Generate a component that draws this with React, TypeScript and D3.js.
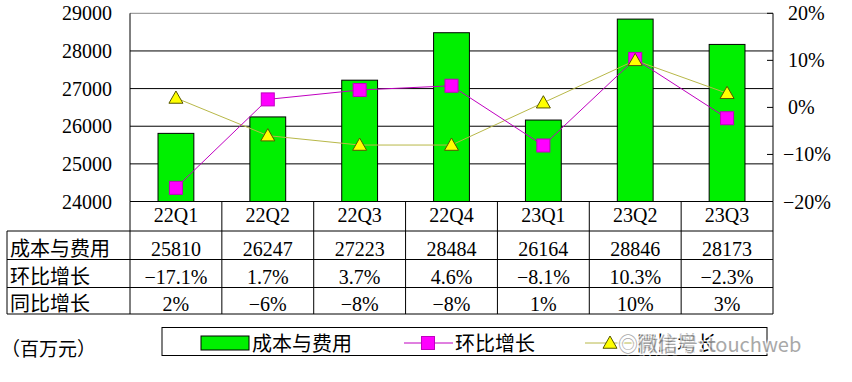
import React from "react";
import * as d3 from "d3";

const categories = ["22Q1", "22Q2", "22Q3", "22Q4", "23Q1", "23Q2", "23Q3"];
const costValues = [25810, 26247, 27223, 28484, 26164, 28846, 28173];
const qoqValues = [-17.1, 1.7, 3.7, 4.6, -8.1, 10.3, -2.3];
const yoyValues = [2, -6, -8, -8, 1, 10, 3];
const qoqLabels = ["−17.1%", "1.7%", "3.7%", "4.6%", "−8.1%", "10.3%", "−2.3%"];
const yoyLabels = ["2%", "−6%", "−8%", "−8%", "1%", "10%", "3%"];
const leftTicks = [24000, 25000, 26000, 27000, 28000, 29000];
const rightTicks = [-20, -10, 0, 10, 20];
const rowNames = ["成本与费用", "环比增长", "同比增长"];

const FONT = "'Liberation Serif', 'Noto Sans CJK SC', serif";

export default function App() {
  const W = 852, H = 382;
  const left = 130, right = 773, top = 13.3, bottom = 201.5;
  const x = d3.scaleBand<string>().domain(categories).range([left, right]).paddingInner(0).paddingOuter(0);
  const yL = d3.scaleLinear().domain([24000, 29000]).range([bottom, top]);
  const yR = d3.scaleLinear().domain([-20, 20]).range([bottom, top]);
  const barW = x.bandwidth() * 0.39;
  const cx = (c: string) => (x(c) as number) + x.bandwidth() / 2;

  const line = d3.line<number>().x((_, i) => cx(categories[i])).y((d) => yR(d));

  const headerBottom = 231;
  const rowBounds = [231, 259.5, 287.5, 314];
  const rowBaselines = [256, 284, 311];
  const labelLeft = 7;

  const tri = (px: number, py: number, s = 7) =>
    `M${px},${py - s} L${px + s},${py + s * 0.75} L${px - s},${py + s * 0.75} Z`;

  return (
    <svg width={W} height={H} style={{ position: "absolute", left: 0, top: 0, background: "#fff" }} fontFamily={FONT}>
      <rect x={0} y={0} width={W} height={H} fill="#fff" />
      {leftTicks.map((t) => (
        <line key={t} x1={left} x2={right} y1={yL(t)} y2={yL(t)} stroke={t === 29000 ? "#888" : "#000"} strokeWidth={1} />
      ))}
      {costValues.map((v, i) => (
        <rect key={i} x={cx(categories[i]) - barW / 2} y={yL(v)} width={barW} height={bottom - yL(v)} fill="#00F000" stroke="#000" strokeWidth={1} />
      ))}
      <line x1={left} x2={left} y1={top} y2={bottom} stroke="#000" />
      <line x1={right} x2={right} y1={top} y2={bottom} stroke="#000" />
      {rightTicks.map((t) => (
        <line key={t} x1={right - 6} x2={right} y1={yR(t)} y2={yR(t)} stroke="#000" />
      ))}
      {leftTicks.map((t) => (
        <text key={t} x={112} y={yL(t)} dy="0.35em" textAnchor="end" fontSize={20} fill="#000">{t}</text>
      ))}
      {rightTicks.map((t) => (
        <text key={t} x={t < 0 ? 783 : 788} y={yR(t)} dy="0.35em" textAnchor="start" fontSize={20} fill="#000">{t < 0 ? "−" + Math.abs(t) + "%" : t + "%"}</text>
      ))}
      <path d={line(yoyValues) as string} fill="none" stroke="#B8B848" strokeWidth={1} />
      <path d={line(qoqValues) as string} fill="none" stroke="#C000C0" strokeWidth={1} />
      {qoqValues.map((v, i) => (
        <rect key={i} x={cx(categories[i]) - 6.5} y={yR(v) - 6.5} width={13} height={13} fill="#FF00FF" stroke="#C000C0" strokeWidth={1} />
      ))}
      {yoyValues.map((v, i) => (
        <path key={i} d={tri(cx(categories[i]), yR(v))} fill="#FFFF00" stroke="#555500" strokeWidth={1} />
      ))}
      {categories.map((c) => (
        <text key={c} x={cx(c)} y={222} textAnchor="middle" fontSize={20}>{c}</text>
      ))}
      <line x1={labelLeft} x2={right} y1={headerBottom} y2={headerBottom} stroke="#000" />
      {rowBounds.slice(1).map((b) => (
        <line key={b} x1={labelLeft} x2={right} y1={b} y2={b} stroke="#000" />
      ))}
      <line x1={labelLeft} x2={labelLeft} y1={headerBottom} y2={314} stroke="#000" />
      {categories.map((c) => (
        <line key={c} x1={x(c) as number} x2={x(c) as number} y1={bottom} y2={314} stroke="#000" />
      ))}
      <line x1={right} x2={right} y1={bottom} y2={314} stroke="#000" />
      {rowNames.map((n, r) => (
        <text key={n} x={10} y={rowBaselines[r]} fontSize={20}>{n}</text>
      ))}
      {costValues.map((v, i) => (
        <text key={i} x={cx(categories[i])} y={rowBaselines[0]} textAnchor="middle" fontSize={20}>{v}</text>
      ))}
      {qoqLabels.map((v, i) => (
        <text key={i} x={cx(categories[i])} y={rowBaselines[1]} textAnchor="middle" fontSize={20}>{v}</text>
      ))}
      {yoyLabels.map((v, i) => (
        <text key={i} x={cx(categories[i])} y={rowBaselines[2]} textAnchor="middle" fontSize={20}>{v}</text>
      ))}
      <text x={1} y={356} fontSize={19}>（百万元）</text>
      <rect x={162} y={327.5} width={605} height={28} fill="#fff" stroke="#000" />
      <rect x={201} y={336} width={48} height={14} fill="#00F000" stroke="#000" />
      <text x={252} y={351} fontSize={20}>成本与费用</text>
      <line x1={404} x2={453} y1={343} y2={343} stroke="#C000C0" />
      <rect x={421.5} y={336.5} width={13} height={13} fill="#FF00FF" stroke="#C000C0" />
      <text x={455} y={351} fontSize={20}>环比增长</text>
      <line x1={585} x2={635} y1={343} y2={343} stroke="#B8B848" />
      <path d={tri(610, 343)} fill="#FFFF00" stroke="#555500" />
      <text x={637} y={351} fontSize={20}>同比增长</text>
      <g opacity={0.85}>
        <text x={618} y={352} fontSize={20} fontFamily="'Noto Sans CJK SC', sans-serif" fill="#999" stroke="#fff" strokeWidth={3} paintOrder="stroke">◎微信号: touchweb</text>
      </g>
    </svg>
  );
}
